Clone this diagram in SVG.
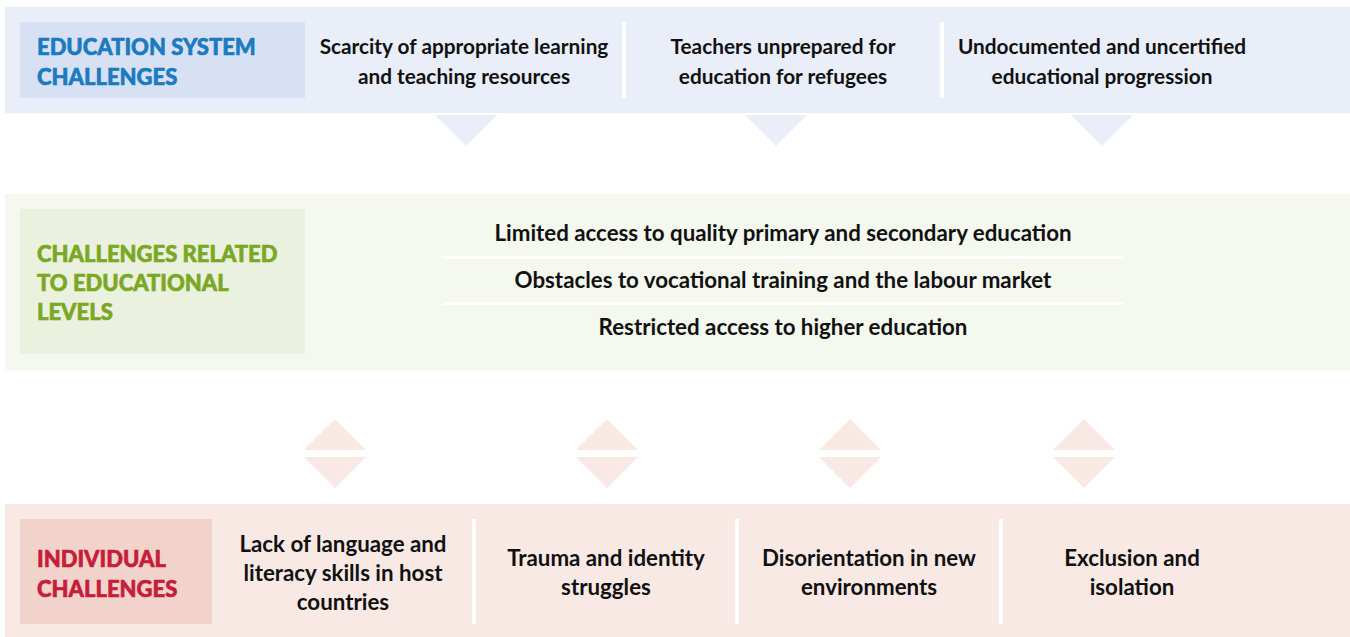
<svg xmlns="http://www.w3.org/2000/svg" width="1350" height="637" viewBox="0 0 1350 637">
<style>
.t{font-family:Lato,"Liberation Sans",sans-serif;font-weight:bold;font-size:22.3px;fill:#111;text-anchor:middle}
.top{font-size:20.8px}
.h{font-family:Lato,"Liberation Sans",sans-serif;font-weight:900;font-size:22px;stroke-width:0.6px}
.div{fill:#fff}
</style>
<rect width="1350" height="637" fill="#fff"/>
<g id="band-system">
<rect x="5" y="7" width="1345" height="106" fill="#e9eef9"/>
<rect x="20" y="22" width="285" height="76" fill="#d8e1f3"/>
<text class="h" fill="#1a7bc1" stroke="#1a7bc1"><tspan x="37" y="55">EDUCATION SYSTEM</tspan><tspan x="37" y="85">CHALLENGES</tspan></text>
<rect class="div" x="622" y="22" width="4" height="76"/>
<rect class="div" x="940" y="22" width="4" height="76"/>
</g>
<g id="node-scarcity"><text class="t top"><tspan x="464" y="54">Scarcity of appropriate learning</tspan><tspan x="464" y="84">and teaching resources</tspan></text></g>
<g id="node-teachers"><text class="t top"><tspan x="783" y="54">Teachers unprepared for</tspan><tspan x="783" y="84">education for refugees</tspan></text></g>
<g id="node-undocumented"><text class="t top"><tspan x="1102" y="54">Undocumented and uncertified</tspan><tspan x="1102" y="84">educational progression</tspan></text></g>

<g id="band-levels">
<rect x="5" y="194" width="1345" height="177" fill="#f4f8ee"/>
<rect x="20" y="209" width="285" height="145" fill="#eaf1de"/>
<text class="h" fill="#7ba824" stroke="#7ba824"><tspan x="37" y="262">CHALLENGES RELATED</tspan><tspan x="37" y="291">TO EDUCATIONAL</tspan><tspan x="37" y="320">LEVELS</tspan></text>
<rect class="div" x="443" y="256" width="680" height="3"/>
<rect class="div" x="443" y="302" width="680" height="3"/>
</g>
<g id="node-limited"><text class="t" x="783" y="241">Limited access to quality primary and secondary education</text></g>
<g id="node-obstacles"><text class="t" x="783" y="288">Obstacles to vocational training and the labour market</text></g>
<g id="node-restricted"><text class="t" x="783" y="335">Restricted access to higher education</text></g>

<g id="band-individual">
<rect x="5" y="504" width="1345" height="133" fill="#f8e9e5"/>
<rect x="20" y="519" width="192" height="105" fill="#f2d3cc"/>
<text class="h" fill="#c51d3a" stroke="#c51d3a"><tspan x="37" y="567">INDIVIDUAL</tspan><tspan x="37" y="597">CHALLENGES</tspan></text>
<rect class="div" x="472" y="519" width="4" height="105"/>
<rect class="div" x="735" y="519" width="4" height="105"/>
<rect class="div" x="999" y="519" width="4" height="105"/>
</g>
<g id="node-language"><text class="t"><tspan x="343" y="552">Lack of language and</tspan><tspan x="343" y="581">literacy skills in host</tspan><tspan x="343" y="610">countries</tspan></text></g>
<g id="node-trauma"><text class="t"><tspan x="606" y="566">Trauma and identity</tspan><tspan x="606" y="595">struggles</tspan></text></g>
<g id="node-disorientation"><text class="t"><tspan x="869" y="566">Disorientation in new</tspan><tspan x="869" y="595">environments</tspan></text></g>
<g id="node-exclusion"><text class="t"><tspan x="1132" y="566">Exclusion and</tspan><tspan x="1132" y="595">isolation</tspan></text></g>

<g id="connectors">
<g fill="#e9eef9">
<polygon points="435,115 497,115 466,146"/>
<polygon points="745,115 807,115 776,146"/>
<polygon points="1071,115 1133,115 1102,146"/>
</g>
<g fill="#f8e9e5">
<polygon points="304,450 366,450 335,419"/>
<polygon points="304,457 366,457 335,488"/>
<polygon points="576,450 638,450 607,419"/>
<polygon points="576,457 638,457 607,488"/>
<polygon points="819,450 881,450 850,419"/>
<polygon points="819,457 881,457 850,488"/>
<polygon points="1053,450 1115,450 1084,419"/>
<polygon points="1053,457 1115,457 1084,488"/>
</g>
</g>
</svg>
